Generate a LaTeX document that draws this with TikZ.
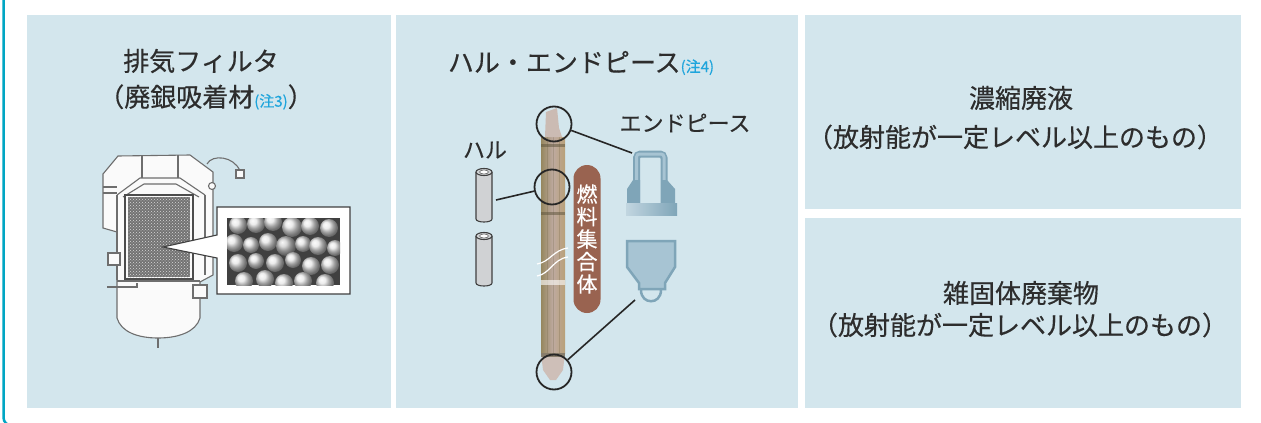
\documentclass[tikz,border=0pt]{standalone}
\usepackage{fontspec}
\setmainfont{Noto Sans CJK JP}[FakeBold=0.4]
\usepackage{xcolor}
\usepackage{tikz}
\usetikzlibrary{positioning, patterns}
\definecolor{panelcolor}{RGB}{211,230,237}
\definecolor{framecolor}{RGB}{0,166,196}
\definecolor{textcolor}{RGB}{45,45,45}
\definecolor{notecolor}{RGB}{30,165,220}
\definecolor{fuelcolor}{RGB}{153,99,80}
\definecolor{piececolor}{RGB}{167,196,211}
\definecolor{piecedark}{RGB}{127,165,184}
\definecolor{hullcolor}{RGB}{208,210,212}
\definecolor{shellcolor}{RGB}{110,110,110}
\definecolor{rodleft}{RGB}{150,135,95}
\definecolor{rodmid}{RGB}{190,170,160}
\definecolor{rodright}{RGB}{185,160,120}
\newcommand{\notetag}[1]{{\fontsize{15}{15}\selectfont\color{notecolor}#1}}

\begin{document}
\begin{tikzpicture}[
    x=1pt, y=-1pt,
    panel/.style={fill=panelcolor},
    titletext/.style={text=textcolor, font=\fontsize{26}{30}\selectfont, inner sep=0},
    smalltext/.style={titletext, font=\fontsize{22}{26}\selectfont},
    ring/.style={circle, draw=black!85, line width=1.8pt, minimum size=35pt, inner sep=0},
    link/.style={draw=black!85, line width=1.6pt},
    shell/.style={draw=shellcolor, line width=1.1pt, fill=white!96!gray},
    hull/.style={draw=black!75, line width=1.1pt, fill=hullcolor},
    pill/.style={fill=fuelcolor, text=white, rounded corners=13.5pt, minimum width=27pt, minimum height=148pt, align=center, inner sep=0, font=\fontsize{21}{22.5}\selectfont}
]
    \useasboundingbox (0,0) rectangle (1261,423);
    \fill[white] (0,0) rectangle (1261,423);
    \draw[framecolor, line width=2.5pt, rounded corners=8pt] (3.5,-5) -- (3.5,425.5) -- (80,425.5);

    \fill[panel] (27,15) rectangle (391,408);
    \fill[panel] (396,15) rectangle (798,408);
    \fill[panel] (805,15) rectangle (1241,209);
    \fill[panel] (805,218) rectangle (1241,408);

    % filter
    \draw[shell] (103,174) -- (118,156) -- (190,155) -- (213,172) -- (213,275) -- (200,282) -- (200,318) .. controls (196,332) and (178,338) .. (158,338) .. controls (138,338) and (121,332) .. (117,318) -- (117,232) -- (103,228) -- cycle;
    \draw[shell] (158,338) -- (158,348);
    \draw[shell, fill=none] (207,164) .. controls (212,154) and (234,156) .. (240,171);
    \draw[shell] (236,170) rectangle (244,178);
    \draw[shell] (212,186) circle (3.5);
    \draw[shell, fill=none] (103,187) -- (117,187) (103,193) -- (117,193);
    \draw[shell, fill=none] (142,155) -- (142,178) (178,155) -- (178,178);
    \draw[shell, fill=none] (117,195) -- (140,178) -- (180,178) -- (205,195);
    \draw[shell, fill=none] (123,197) -- (144,184) -- (176,184) -- (199,197);
    \draw[shell, fill=none] (117,195) -- (117,280) (205,195) -- (205,275);
    \draw[shell, fill=none] (117,281) -- (200,281);
    \fill[black!55] (128,197) rectangle (190,277);
    \fill[pattern=crosshatch dots, pattern color=white!85!black] (128,197) rectangle (190,277);
    \draw[black!70, line width=1.5pt] (125,195) rectangle (193,279);
    \draw[shell] (108,253) rectangle (120,265);
    \draw[shell] (193,285) rectangle (207,298);
    \draw[shell, fill=none] (107,287) -- (137,287) -- (137,283);

    \draw[draw=black!75, line width=1.1pt, fill=white] (163,247) -- (217,235) -- (217,207) -- (350,207) -- (350,294) -- (217,294) -- (217,258) -- cycle;
    \begin{scope}
        \clip (227,218) rectangle (340,285);
        \fill[black!75] (227,218) rectangle (340,285);
        \shade[ball color=gray!20] (238,225) circle (9);
        \shade[ball color=gray!20] (256,224) circle (9);
        \shade[ball color=gray!20] (273,222) circle (9);
        \shade[ball color=gray!20] (292,227) circle (10);
        \shade[ball color=gray!20] (310,226) circle (9);
        \shade[ball color=gray!20] (329,228) circle (9);
        \shade[ball color=gray!20] (234,243) circle (9);
        \shade[ball color=gray!20] (251,245) circle (8);
        \shade[ball color=gray!20] (268,242) circle (9);
        \shade[ball color=gray!40] (286,246) circle (10);
        \shade[ball color=gray!20] (303,244) circle (8);
        \shade[ball color=gray!20] (318,246) circle (9);
        \shade[ball color=gray!20] (335,248) circle (8);
        \shade[ball color=gray!20] (238,263) circle (9);
        \shade[ball color=gray!20] (256,261) circle (8);
        \shade[ball color=gray!20] (275,263) circle (9);
        \shade[ball color=gray!20] (293,260) circle (8);
        \shade[ball color=gray!20] (311,266) circle (9);
        \shade[ball color=gray!20] (330,265) circle (9);
        \shade[ball color=gray!20] (244,281) circle (9);
        \shade[ball color=gray!20] (265,279) circle (9);
        \shade[ball color=gray!20] (284,283) circle (9);
        \shade[ball color=gray!20] (303,281) circle (9);
        \shade[ball color=gray!20] (325,283) circle (9);
    \end{scope}

    \node[titletext] (filtertitle) at (201,61) {排気フィルタ};
    \node[titletext] (filtersub) at (206,97) {（廃銀吸着材\notetag{(注3)}）};

    % hull and end pieces
    \node[titletext] (hulltitle) at (581,63) {ハル・エンドピース\notetag{(注4)}};
    \node[smalltext] (piecelabel) at (685,123) {エンドピース};
    \node[smalltext] (hulllabel) at (485,150) {ハル};

    \draw[hull] (476,172) -- (476,219) .. controls (476,223) and (492,223) .. (492,219) -- (492,172);
    \draw[hull] (484,172) ellipse [x radius=8, y radius=3.5];
    \draw[black!60, fill=white, line width=.6pt] (484,172) ellipse [x radius=4.5, y radius=2];
    \draw[hull] (476,236) -- (476,283) .. controls (476,287) and (492,287) .. (492,283) -- (492,236);
    \draw[hull] (484,236) ellipse [x radius=8, y radius=3.5];
    \draw[black!60, fill=white, line width=.6pt] (484,236) ellipse [x radius=4.5, y radius=2];

    \shade[left color=rodleft, right color=rodright, middle color=rodmid] (541,137) rectangle (565,353);
    \draw[rodleft!80!black, opacity=.3, line width=.6pt] (547,137) -- (547,353) (553,137) -- (553,353) (559,137) -- (559,353);
    \fill[rodleft!60!black, opacity=.5] (541,144) rectangle (565,147);
    \fill[rodleft!60!black, opacity=.5] (541,212) rectangle (565,215);
    \fill[white, opacity=.6] (541,280) rectangle (565,285);
    \fill[rodmid!80!white] (545,137) -- (546,112) -- (557,108) -- (559,128) -- (562,137) -- cycle;
    \fill[rodmid!75!white] (541,353) -- (565,353) -- (563,370) -- (556,380) -- (550,380) -- (543,370) -- cycle;
    \fill[rodleft!60!black, opacity=.6] (541,353) rectangle (565,357);
    \draw[white, line width=1.2pt] (537,264) .. controls (550,262) and (553,250) .. (568,248);
    \draw[white, line width=1.2pt] (537,276) .. controls (550,274) and (553,259) .. (568,257);

    \node[pill] (fuel) at (587,239) {燃\\料\\集\\合\\体};

    \draw[piecedark, line width=7pt, rounded corners=4pt] (636.5,206) -- (636.5,154) -- (664,154) -- (664,206);
    \draw[piececolor, line width=3pt, rounded corners=3pt] (636.5,206) -- (636.5,154) -- (664,154) -- (664,206);
    \fill[piecedark] (633,180) -- (627,189) -- (627,204) -- (640,204) -- (640,180) -- cycle;
    \fill[piecedark] (667,180) -- (675,189) -- (675,204) -- (661,204) -- (661,180) -- cycle;
    \shade[left color=piececolor!70!white, middle color=piececolor, right color=piecedark] (626,203) rectangle (677,215);
    \draw[piecedark, line width=2.5pt, fill=piececolor] (627,241) -- (675,241) -- (675,267) -- (665,283) -- (665,289) -- (639,289) -- (639,283) -- (627,267) -- cycle;
    \draw[piecedark, line width=2.5pt] (641,290) .. controls (641,305) and (661,305) .. (661,290);

    \node[ring] (ctop) at (554,124) {};
    \node[ring] (cmid) at (552,187) {};
    \node[ring] (cbot) at (554,372) {};
    \coordinate (pieceup) at (632,153);
    \coordinate (piecedown) at (635,300);
    \coordinate (hullend) at (496,200);
    \draw[link] (ctop) -- (pieceup);
    \draw[link] (cmid) -- (hullend);
    \draw[link] (cbot) -- (piecedown);

    % right side
    \node[titletext] (liquid) at (1021,98) {濃縮廃液};
    \node[titletext] (liquidsub) at (1015,137) {（放射能が一定レベル以上のもの）};
    \node[titletext] (solid) at (1021,293) {雑固体廃棄物};
    \node[titletext] (solidsub) at (1020,325) {（放射能が一定レベル以上のもの）};
\end{tikzpicture}
\end{document}
